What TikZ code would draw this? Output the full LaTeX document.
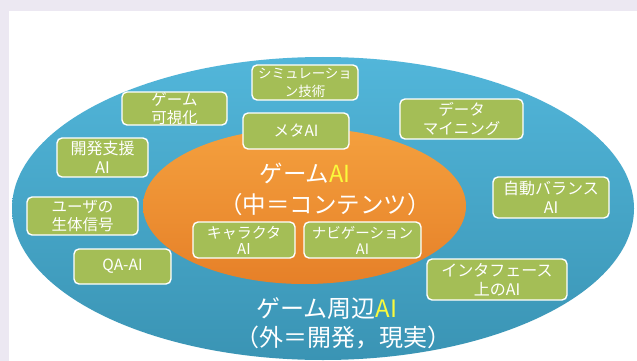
\documentclass[tikz,border=0pt]{standalone}
\usepackage{fontspec}
\setmainfont{Noto Sans CJK JP}
\definecolor{bglav}{RGB}{236,232,242}
\definecolor{blueT}{RGB}{82,182,218}
\definecolor{blueB}{RGB}{58,148,180}
\definecolor{orT}{RGB}{244,160,62}
\definecolor{orB}{RGB}{230,128,40}
\definecolor{boxg}{RGB}{164,190,86}
\definecolor{aiyel}{RGB}{250,250,60}
\tikzset{
  gbox/.style={draw=white, line width=1.4pt, rounded corners=5pt, fill=boxg,
    text=white, align=center, inner sep=0pt, font=\fontsize{15.5}{18.5}\selectfont},
  bigtext/.style={text=white, inner sep=0pt, font=\fontsize{23.5}{28}\selectfont}
}
\begin{document}
\begin{tikzpicture}[x=1pt,y=-1pt]
\useasboundingbox (0,0) rectangle (637,361);
\fill[bglav] (0,0) rectangle (637,361);
\fill[white] (9,11) rectangle (637,361);
% ellipses
\shade[top color=blueT, bottom color=blueB] (323,208.5) ellipse [x radius=311, y radius=151.5];
\shade[top color=orT, bottom color=orB] (304.5,206) ellipse [x radius=161.5, y radius=78];
% boxes
\node[gbox, minimum width=106pt, minimum height=35pt, font=\fontsize{13.5}{18}\selectfont] (sim) at (305,82.5) {シミュレーショ\\ン技術};
\node[gbox, minimum width=105pt, minimum height=33pt] (vis) at (174.5,108.5) {ゲーム\\可視化};
\node[gbox, minimum width=106pt, minimum height=36pt] (meta) at (296,131) {メタAI};
\node[gbox, minimum width=123pt, minimum height=40pt] (data) at (461.5,119) {データ\\マイニング};
\node[gbox, minimum width=91pt, minimum height=39pt, font=\fontsize{16}{19}\selectfont] (dev) at (102.5,157.5) {開発支援\\AI};
\node[gbox, minimum width=111pt, minimum height=38pt] (user) at (82.5,216) {ユーザの\\生体信号};
\node[gbox, minimum width=97pt, minimum height=35pt] (qa) at (122.5,266.5) {QA-AI};
\node[gbox, minimum width=102pt, minimum height=36pt, font=\fontsize{15}{16}\selectfont] (chara) at (244,240) {キャラクタ\\AI};
\node[gbox, minimum width=117pt, minimum height=36pt, font=\fontsize{14.5}{16}\selectfont] (navi) at (362.5,240) {ナビゲーション\\AI};
\node[gbox, minimum width=116pt, minimum height=41pt, font=\fontsize{16}{19}\selectfont] (auto) at (551,197.5) {自動バランス\\AI};
\node[gbox, minimum width=140pt, minimum height=41pt, font=\fontsize{16}{19}\selectfont] (iface) at (497,279.5) {インタフェース\\上のAI};
% main labels
\node[bigtext] (inner1) at (305,173) {ゲーム\textcolor{aiyel}{AI}};
\node[bigtext] (inner2) at (325,205) {（中＝コンテンツ）};
\node[bigtext, font=\fontsize{24}{28}\selectfont] (outer1) at (327,309) {ゲーム周辺\textcolor{aiyel}{AI}};
\node[bigtext, font=\fontsize{24}{28}\selectfont] (outer2) at (343,338) {（外＝開発，現実）};
\end{tikzpicture}
\end{document}
